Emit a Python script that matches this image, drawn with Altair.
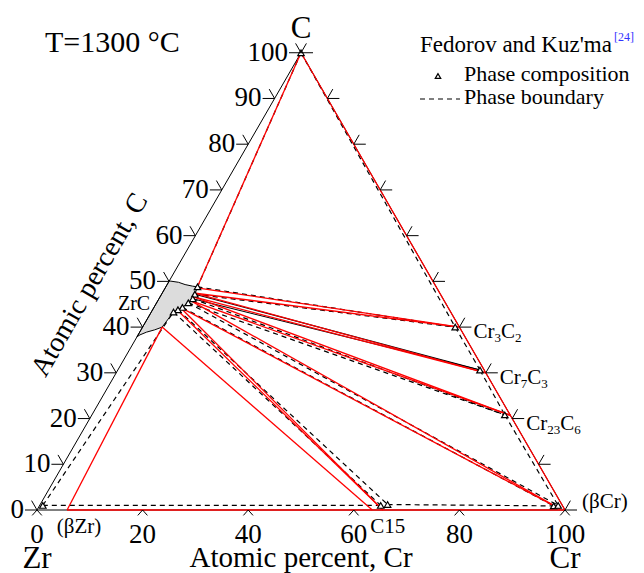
import math
import altair as alt
import pandas as pd

# ---------------------------------------------------------------------------
# Geometry of the Gibbs triangle (page pixels)
# ---------------------------------------------------------------------------
SIDE = 528.0                         # length of one triangle side
HEIGHT = SIDE * math.sqrt(3) / 2
LEFT, BOTTOM = 37.0, 510.0           # position of the Zr corner
TOP = BOTTOM - HEIGHT
PAGE_W, PAGE_H = 644, 573
PX = SIDE / 100.0                    # pixels per at.% unit
YMAX = 100 * math.sqrt(3) / 2
SERIF = "Liberation Serif"
RED = "#ff0000"

# ---------------------------------------------------------------------------
# Data.  Every composition is (Cr at.%, C at.%); Zr is the balance.
# ---------------------------------------------------------------------------
# Experimental phase compositions (Fedorov and Kuz'ma)
EXP_NAMES = ["C", "Cr3C2", "Cr7C3", "Cr23C6", "bCr1", "bCr2", "C15a", "C15b", "bZr",
             "Z1", "Z2", "Z3", "Z4", "Z5", "Z6", "Z7"]
EXP_CR = [0.0, 59.2, 68.6, 78.2, 97.4, 98.2, 64.6, 65.8, 0.6,
          6.0, 6.3, 6.4, 6.0, 5.4, 4.8, 4.2]
EXP_C = [100.0, 40.0, 30.6, 20.8, 0.9, 1.0, 1.0, 1.2, 1.0,
         48.8, 47.2, 46.2, 45.3, 44.3, 43.8, 43.3]

# Experimental phase boundaries (dashed)
EXP_DASHED_FROM = ["C", "Z1", "Z2", "Z3", "Z4", "Z4", "Z5", "Z6", "Z7", "bZr",
                   "C", "Cr3C2", "Cr7C3", "Cr23C6", "bZr", "C15b"]
EXP_DASHED_TO = ["Z1", "Cr3C2", "Cr3C2", "Cr23C6", "Cr23C6", "bCr2", "bCr1", "C15b", "C15a", "Z7",
                 "Cr3C2", "Cr7C3", "Cr23C6", "bCr2", "C15a", "bCr1"]
# ZrC + Cr7C3 tie lines drawn solid
EXP_SOLID_FROM = ["Z2", "Z3"]
EXP_SOLID_TO = ["Cr7C3", "Cr7C3"]

# Calculated phase compositions and boundaries (red)
CALC_NAMES = ["C", "Cr", "Cr3C2", "Cr7C3", "Cr23C6", "bCr", "C15a", "C15b", "bZr",
              "T1", "T2", "T3", "T4", "T5", "T5b", "T6"]
CALC_CR = [0.0, 100.0, 60.0, 70.0, 79.3, 99.0, 63.5, 65.5, 5.7,
           6.0, 6.3, 6.4, 6.2, 5.0, 4.6, 3.7]
CALC_C = [100.0, 0.0, 40.0, 30.0, 20.7, 0.2, 0.0, 0.0, 0.0,
          48.6, 47.4, 46.6, 45.8, 44.3, 43.8, 40.0]
CALC_FROM = ["C", "bZr", "C", "T1", "T2", "T2", "T3", "T3", "T4", "T4", "T5", "T5", "T5b", "T6", "T6"]
CALC_TO = ["Cr", "Cr", "T1", "Cr3C2", "Cr3C2", "Cr7C3", "Cr7C3", "Cr23C6", "Cr23C6",
           "bCr", "bCr", "C15b", "C15b", "C15a", "bZr"]

# Single-phase ZrC field outline
ZRC_CR = [0.0, 1.9, 3.4, 5.0, 6.0, 6.3, 6.4, 6.0, 5.4, 4.8, 4.2, 3.7, 2.6, 1.3, 0.35, 0.0, 0.0]
ZRC_C = [50.1, 49.8, 49.3, 48.95, 48.8, 47.2, 46.2, 45.3, 44.3, 43.8, 43.3, 40.0, 39.4, 38.9, 38.3, 37.9, 50.1]

# Triangle frame
CORNER_NAMES = ["Zr", "Cr", "C"]
CORNER_CR = [0.0, 100.0, 0.0]
CORNER_C = [0.0, 0.0, 100.0]
CORNER_DY = [58, 58, -15]

# Axis ticks
C_TICKS = [0, 10, 20, 30, 40, 50, 60, 70, 80, 90, 100]
CR_TICKS = [0, 20, 40, 60, 80, 100]

# Carbide labels on the Cr-C edge (label pieces: text, subscript flag)
CARBIDE_AT_C = [40, 30, 20]
CARBIDE_PARTS = [[("Cr", 0), ("3", 1), ("C", 0), ("2", 1)],
                 [("Cr", 0), ("7", 1), ("C", 0), ("3", 1)],
                 [("Cr", 0), ("23", 1), ("C", 0), ("6", 1)]]

# ---------------------------------------------------------------------------
# Helpers
# ---------------------------------------------------------------------------
XS = alt.Scale(domain=[0, 100], nice=False, zero=False)
YS = alt.Scale(domain=[0, YMAX], nice=False, zero=False)
TX = "datum.cr + datum.c / 2"
TY = "datum.c * sqrt(3) / 2"


def lookup(names, crs, cs):
    return {n: (a, b) for n, a, b in zip(names, crs, cs)}


def segments(frm, to, table):
    rows = []
    for a, b in zip(frm, to):
        rows.append(dict(cr1=table[a][0], c1=table[a][1], cr2=table[b][0], c2=table[b][1]))
    return pd.DataFrame(rows)


def rules(df, **mark):
    return (alt.Chart(df).mark_rule(**mark)
            .transform_calculate(x="datum.cr1 + datum.c1 / 2", y="datum.c1 * sqrt(3) / 2",
                                 x2="datum.cr2 + datum.c2 / 2", y2="datum.c2 * sqrt(3) / 2")
            .encode(x=alt.X("x:Q", scale=XS, axis=None), y=alt.Y("y:Q", scale=YS, axis=None),
                    x2="x2:Q", y2="y2:Q"))


def placed(mark):
    return (mark.transform_calculate(x=TX, y=TY)
            .encode(x=alt.X("x:Q", scale=XS, axis=None), y=alt.Y("y:Q", scale=YS, axis=None)))


def page_text(text, px, py, size, **kw):
    # annotation text positioned in page pixels
    return alt.Chart(pd.DataFrame({"t": [text]})).mark_text(
        font=SERIF, fontSize=size, **kw).encode(
        x=alt.value(px - LEFT), y=alt.value(py - TOP), text="t:N")


exp_pts = lookup(EXP_NAMES, EXP_CR, EXP_C)
calc_pts = lookup(CALC_NAMES, CALC_CR, CALC_C)
corners = lookup(CORNER_NAMES, CORNER_CR, CORNER_C)

layers = []

# ZrC single-phase field
zrc = pd.DataFrame({"cr": ZRC_CR, "c": ZRC_C, "i": range(len(ZRC_CR))})
layers.append(placed(alt.Chart(zrc).mark_line(fill="#dcdcdc", stroke="black", strokeWidth=1))
              .encode(order="i:O"))

# frame
layers.append(rules(segments(["Zr", "Zr", "C"], ["C", "Cr", "Cr"], corners), color="black", strokeWidth=1))

# experimental boundaries
layers.append(rules(segments(EXP_DASHED_FROM, EXP_DASHED_TO, exp_pts),
                    color="black", strokeWidth=1.2, strokeDash=[5, 4]))
layers.append(rules(segments(EXP_SOLID_FROM, EXP_SOLID_TO, exp_pts), color="black", strokeWidth=1.1))

# calculated boundaries
layers.append(rules(segments(CALC_FROM, CALC_TO, calc_pts), color=RED, strokeWidth=1.3))

# experimental phase compositions
exp_df = pd.DataFrame({"cr": EXP_CR, "c": EXP_C})
layers.append(placed(alt.Chart(exp_df).mark_point(
    shape="triangle-up", size=42, filled=True, fill="white", stroke="black", strokeWidth=1.2, opacity=1)))

# ticks
TICK_R = 24 ** 2
left_df = pd.DataFrame({"cr": [0.0] * len(C_TICKS), "c": C_TICKS, "t": [str(v) for v in C_TICKS]})
right_df = pd.DataFrame({"cr": [100.0 - v for v in C_TICKS], "c": C_TICKS})
bottom_df = pd.DataFrame({"cr": CR_TICKS, "c": [0.0] * len(CR_TICKS), "t": [str(v) for v in CR_TICKS]})
layers.append(placed(alt.Chart(left_df).mark_point(
    shape="M0,0L-1,0M0,0L-0.45,-0.78", size=TICK_R, filled=False, color="black", strokeWidth=1, opacity=1)))
layers.append(placed(alt.Chart(right_df).mark_point(
    shape="M0,0L1,0M0,0L0.45,-0.78", size=TICK_R, filled=False, color="black", strokeWidth=1, opacity=1)))
layers.append(placed(alt.Chart(bottom_df).mark_point(
    shape="M-0.4,0.45L0,0L0.4,0.45", size=TICK_R, filled=False, color="black", strokeWidth=1, opacity=1)))

# tick labels
layers.append(placed(alt.Chart(left_df).mark_text(
    font=SERIF, fontSize=27, align="right", baseline="middle", dx=-13)).encode(text="t:N"))
layers.append(placed(alt.Chart(bottom_df).mark_text(
    font=SERIF, fontSize=27, align="center", baseline="alphabetic", dy=33)).encode(text="t:N"))

# corner element names
corner_df = pd.DataFrame({"cr": CORNER_CR, "c": CORNER_C, "t": CORNER_NAMES})
for name, dy in zip(CORNER_NAMES, CORNER_DY):
    sub = corner_df[corner_df.t == name]
    layers.append(placed(alt.Chart(sub).mark_text(
        font=SERIF, fontSize=31, align="center", baseline="alphabetic", dy=dy)).encode(text="t:N"))

# axis titles
mid_bottom = pd.DataFrame({"cr": [50.0], "c": [0.0], "t": ["Atomic percent, Cr"]})
layers.append(placed(alt.Chart(mid_bottom).mark_text(
    font=SERIF, fontSize=29, align="center", baseline="alphabetic", dy=57)).encode(text="t:N"))
layers.append(page_text("Atomic percent, C", 90, 285, 28, align="center", baseline="middle", angle=300))


# phase labels
def phase_label(cr, c, text, size, **kw):
    df = pd.DataFrame({"cr": [cr], "c": [c], "t": [text]})
    return placed(alt.Chart(df).mark_text(font=SERIF, fontSize=size, **kw)).encode(text="t:N")


layers.append(phase_label(0.0, 44.0, "ZrC", 20, align="right", baseline="alphabetic", dx=-3, dy=1))
layers.append(phase_label(*calc_pts["bZr"], "(βZr)", 21, align="center", baseline="alphabetic", dx=12, dy=23))
layers.append(phase_label(*calc_pts["C15b"], "C15", 21, align="center", baseline="alphabetic", dx=5, dy=23))
layers.append(phase_label(100.0, 0.0, "(βCr)", 21, align="left", baseline="alphabetic", dx=17, dy=-2))

# carbide labels with subscripts
MAIN, SUB = 21, 13
rows = []
for c_at, parts in zip(CARBIDE_AT_C, CARBIDE_PARTS):
    ox = 14.0
    for text, is_sub in parts:
        size = SUB if is_sub else MAIN
        rows.append(dict(cr=100.0 - c_at, c=float(c_at), ox=ox, oy=11.0 + (4.0 if is_sub else 0.0),
                         t=text, s=size))
        width = (0.5 * len(text) if is_sub else (1.0 if text == "Cr" else 0.667)) * size
        ox += width
carb = pd.DataFrame(rows)
layers.append(alt.Chart(carb).mark_text(font=SERIF, align="left", baseline="alphabetic")
              .transform_calculate(x=f"datum.cr + datum.c / 2 + datum.ox / {PX}",
                                   y=f"datum.c * sqrt(3) / 2 - datum.oy / {PX}")
              .encode(x=alt.X("x:Q", scale=XS, axis=None), y=alt.Y("y:Q", scale=YS, axis=None),
                      text="t:N", size=alt.Size("s:Q", scale=None)))

# temperature
layers.append(page_text("T=1300 °C", 45, 52, 30, align="left", baseline="alphabetic"))

# legend
layers.append(page_text("Fedorov and Kuz'ma", 420, 52, 23, align="left", baseline="alphabetic"))
layers.append(page_text("[24]", 614, 41, 12, align="left", baseline="alphabetic", color="#3333ff"))
layers.append(alt.Chart(pd.DataFrame({"k": [0]})).mark_point(
    shape="triangle-up", size=30, filled=True, fill="white", stroke="black", strokeWidth=1.2, opacity=1)
    .encode(x=alt.value(438 - LEFT), y=alt.value(76 - TOP)))
layers.append(page_text("Phase composition", 464, 81, 22, align="left", baseline="alphabetic"))
layers.append(alt.Chart(pd.DataFrame({"k": [0]})).mark_rule(color="black", strokeWidth=1.2, strokeDash=[5, 4])
              .encode(x=alt.value(420 - LEFT), x2=alt.value(460 - LEFT), y=alt.value(99 - TOP)))
layers.append(page_text("Phase boundary", 464, 104, 22, align="left", baseline="alphabetic"))

chart = (alt.layer(*layers)
         .properties(width=SIDE, height=HEIGHT, autosize="none", background="white",
                     padding={"left": LEFT, "top": TOP, "right": PAGE_W - LEFT - SIDE,
                              "bottom": PAGE_H - BOTTOM})
         .configure_view(stroke=None))

chart.save("out.html", embed_options={"renderer": "svg", "actions": False})
